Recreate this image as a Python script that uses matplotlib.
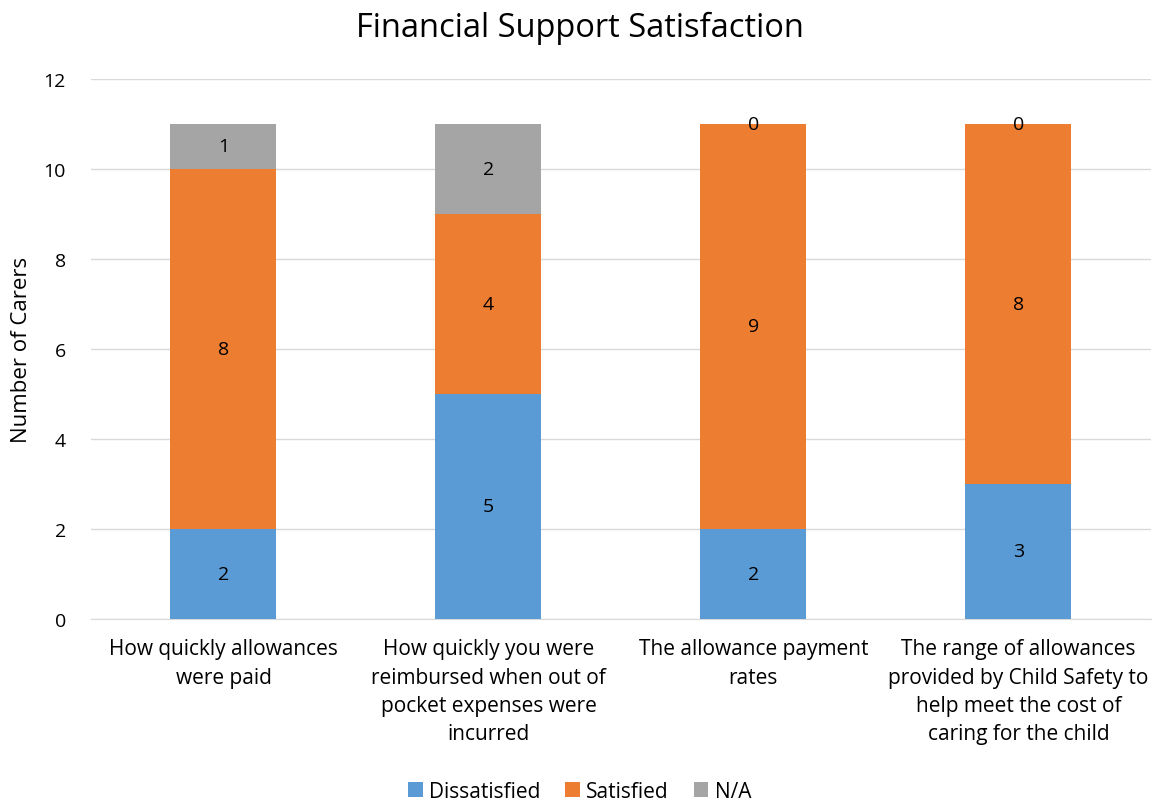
import matplotlib
matplotlib.use("Agg")
import matplotlib.pyplot as plt
import numpy as np

categories = ["How quickly allowances\nwere paid",
              "How quickly you were\nreimbursed when out of\npocket expenses were\nincurred",
              "The allowance payment\nrates",
              "The range of allowances\nprovided by Child Safety to\nhelp meet the cost of\ncaring for the child"]
dissatisfied = [2, 5, 2, 3]
satisfied = [8, 4, 9, 8]
na = [1, 2, 0, 0]
series_names = ["Dissatisfied", "Satisfied", "N/A"]
colors = ["#5B9BD5", "#ED7D31", "#A5A5A5"]

plt.rcParams['font.family'] = ['Open Sans', 'DejaVu Sans']

fig = plt.figure(figsize=(11.59, 8.04), dpi=100)
ax = fig.add_axes([0.0785, 0.229, 0.9145, 0.6715])

x = np.arange(len(categories))
bottom = np.zeros(len(categories))
for vals, name, c in zip([dissatisfied, satisfied, na], series_names, colors):
    vals = np.array(vals, dtype=float)
    ax.bar(x, vals, 0.4, bottom=bottom, color=c, label=name, zorder=3)
    for xi, b, v in zip(x, bottom, vals):
        ax.text(xi, b + v / 2, f"{int(v)}", ha="center", va="center",
                fontsize=14, color="#000000", zorder=4)
    bottom += vals

ax.set_xlim(-0.5, 3.5)
ax.set_ylim(0, 12)
ax.set_yticks(range(0, 13, 2))
ax.set_xticks(x)
ax.set_xticklabels(categories, fontsize=15, linespacing=1.45)
ax.tick_params(axis='y', length=0, labelsize=14, pad=18, colors="#000000")
ax.tick_params(axis='x', length=0, pad=14)
ax.grid(axis='y', color="#D9D9D9", linewidth=1, zorder=0)
for s in ["top", "right", "left"]:
    ax.spines[s].set_visible(False)
ax.spines["bottom"].set_color("#D9D9D9")
ax.set_ylabel("Number of Carers", fontsize=16, labelpad=8)
fig.suptitle("Financial Support Satisfaction", fontsize=23.5, y=0.985)

fig.legend(loc="lower center", ncol=3, frameon=False, fontsize=15,
           bbox_to_anchor=(0.5, -0.022), handlelength=0.7, handleheight=0.7,
           columnspacing=1.2, handletextpad=0.3)

fig.savefig("out.png", dpi=100)
